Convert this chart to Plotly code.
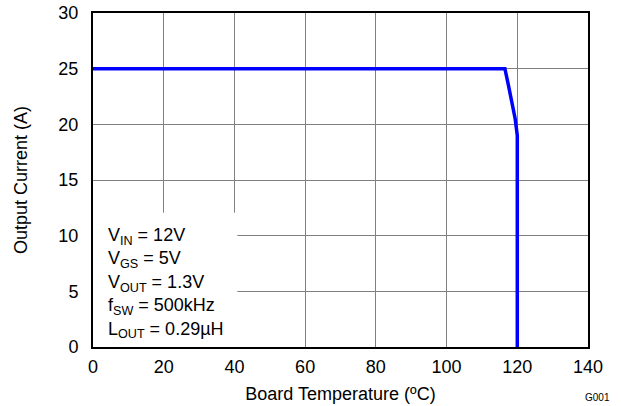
import plotly.graph_objects as go

temperature = [0, 116.5, 117.5, 118.5, 119.4, 120, 120]
current = [25, 25, 23.5, 22, 20.5, 19, 0]

x_ticks = [0, 20, 40, 60, 80, 100, 120, 140]
y_ticks = [0, 5, 10, 15, 20, 25, 30]

conditions = ["V<sub>IN</sub> = 12V", "V<sub>GS</sub> = 5V", "V<sub>OUT</sub> = 1.3V",
              "f<sub>SW</sub> = 500kHz", "L<sub>OUT</sub> = 0.29µH"]

FONT = "Liberation Sans, Arial, sans-serif"

fig = go.Figure()
fig.add_trace(go.Scatter(x=temperature, y=current, mode="lines",
                         line=dict(color="#0000ff", width=3.5), showlegend=False))

fig.add_shape(type="rect", xref="x", yref="y", x0=0, x1=40.8, y0=0, y1=12.06,
              fillcolor="white", line=dict(width=0), layer="above")
fig.add_annotation(x=0, y=11.1, xref="x", yref="y", xanchor="left", yanchor="top",
                   xshift=13, text="<br>".join(conditions), showarrow=False, align="left",
                   font=dict(family=FONT, size=18, color="black"))

fig.add_annotation(x=1, y=0, xref="paper", yref="paper", xanchor="right", yanchor="middle",
                   yshift=-50, xshift=24, text="G001", showarrow=False,
                   font=dict(family=FONT, size=10, color="black"))

axis_common = dict(showgrid=True, gridcolor="#808080", gridwidth=1, showline=True,
                   linecolor="black", linewidth=2, mirror=True, ticks="", zeroline=False,
                   ticklabeloverflow="allow",
                   tickfont=dict(family=FONT, size=18, color="black"))

fig.update_xaxes(range=[0, 140], tickvals=x_ticks, ticklabelstandoff=2,
                 title=dict(text="Board Temperature (ºC)", standoff=12,
                            font=dict(family=FONT, size=18, color="black")), **axis_common)
fig.update_yaxes(range=[0, 30], tickvals=y_ticks, ticklabelstandoff=9,
                 title=dict(text="Output Current (A)", standoff=26,
                            font=dict(family=FONT, size=18, color="black")), **axis_common)

fig.update_layout(width=621, height=406,
                  margin=dict(l=93, r=33, t=13, b=58.5, autoexpand=False),
                  plot_bgcolor="white", paper_bgcolor="white")
fig.write_html("out.html", config={"displayModeBar": False},
               post_script="document.body.style.margin='0';document.body.style.overflow='hidden';")
